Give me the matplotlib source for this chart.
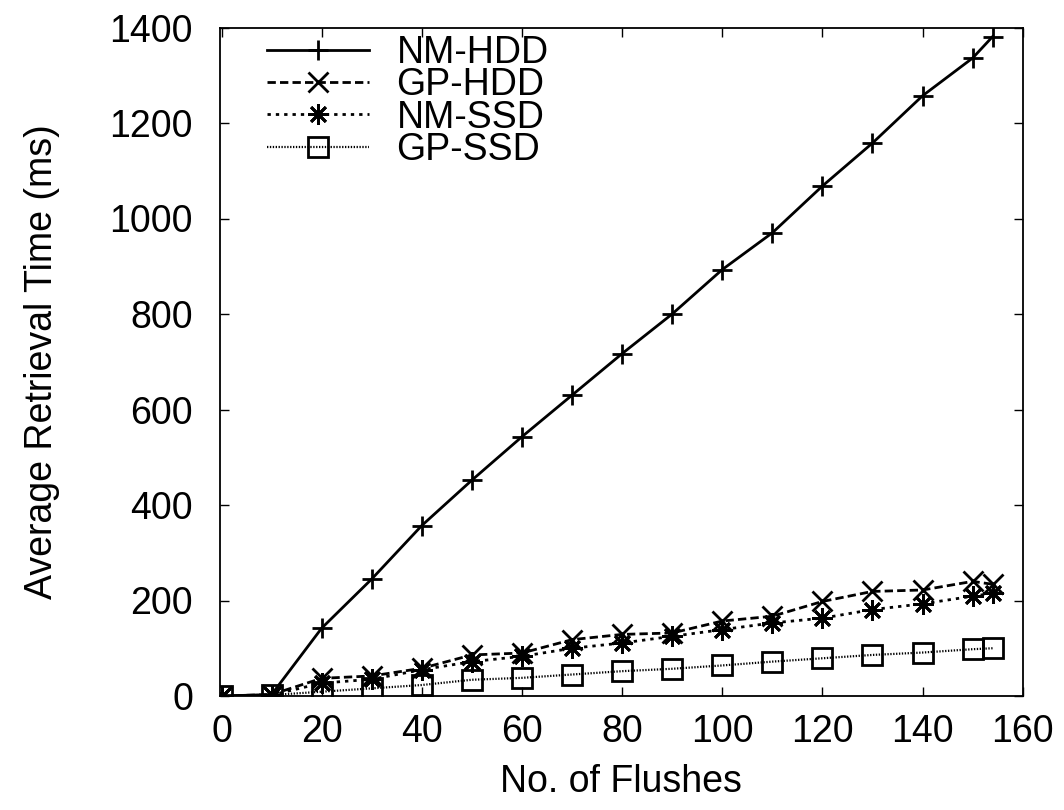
import matplotlib
matplotlib.use("Agg")
import matplotlib.pyplot as plt
from matplotlib import font_manager

# flush counts (last run stopped at 154)
flushes = [0, 10, 20, 30, 40, 50, 60, 70, 80, 90, 100, 110, 120, 130, 140, 150, 154]

nm_hdd = [0, 3, 142, 245, 357, 452, 543, 630, 717, 800, 893, 970, 1068, 1158, 1257, 1336, 1381]
gp_hdd = [0, 3, 37, 42, 58, 86, 90, 118, 129, 132, 157, 167, 198, 219, 222, 240, 234]
nm_ssd = [0, 2, 27, 35, 55, 72, 83, 100, 111, 125, 139, 153, 163, 181, 193, 209, 215]
gp_ssd = [0, 2, 9, 16, 23, 34, 38, 45, 52, 57, 64, 72, 79, 86, 91, 98, 100]

labels = ["NM-HDD", "GP-HDD", "NM-SSD", "GP-SSD"]
x_ticks = list(range(0, 161, 20))
y_ticks = list(range(0, 1401, 200))

names = {f.name for f in font_manager.fontManager.ttflist}
plt.rcParams['font.family'] = ['Liberation Sans' if 'Liberation Sans' in names else 'DejaVu Sans']
plt.rcParams['font.size'] = 27

fig = plt.figure(figsize=(10.64, 8.1), dpi=100)
ax = fig.add_axes([219.5 / 1064, 114 / 810, 803.2 / 1064, 668.5 / 810])

lw = 2.0
mew = 2.0
ax.plot(flushes, nm_hdd, color='black', lw=lw, linestyle='-',
        marker='+', ms=15, mew=mew, label=labels[0])
ax.plot(flushes, gp_hdd, color='black', lw=lw, linestyle=(0, (3, 1.5)),
        marker='x', ms=14, mew=mew, label=labels[1])
ax.plot(flushes, nm_ssd, color='black', lw=lw, linestyle=(0, (1.2, 1.8)),
        marker=(8, 2, 0), ms=15, mew=mew, label=labels[2])
ax.plot(flushes, gp_ssd, color='black', lw=1.6, linestyle=(0, (0.6, 0.7)),
        marker='s', ms=14, mew=mew, mfc='none', label=labels[3])

ax.set_xlim(-0.4, 160)
ax.set_ylim(0, 1400)
ax.set_xticks(x_ticks)
ax.set_yticks(y_ticks)
ax.tick_params(direction='in', length=6.5, width=1.0, top=True, right=True)
ax.tick_params(axis='x', pad=13)
ax.tick_params(axis='y', pad=19)
for s in ax.spines.values():
    s.set_linewidth(1.3)

ax.set_xlabel("No. of Flushes", labelpad=10)
ax.set_ylabel("Average Retrieval Time (ms)", labelpad=36)

ax.legend(loc='upper left', bbox_to_anchor=(267 / 1064, 1 - 35 / 810),
          bbox_transform=fig.transFigure, frameon=False, borderpad=0,
          borderaxespad=0, handlelength=2.73, handletextpad=0.72,
          labelspacing=-0.1, numpoints=1)

plt.savefig("out.png", dpi=100)
plt.close()
